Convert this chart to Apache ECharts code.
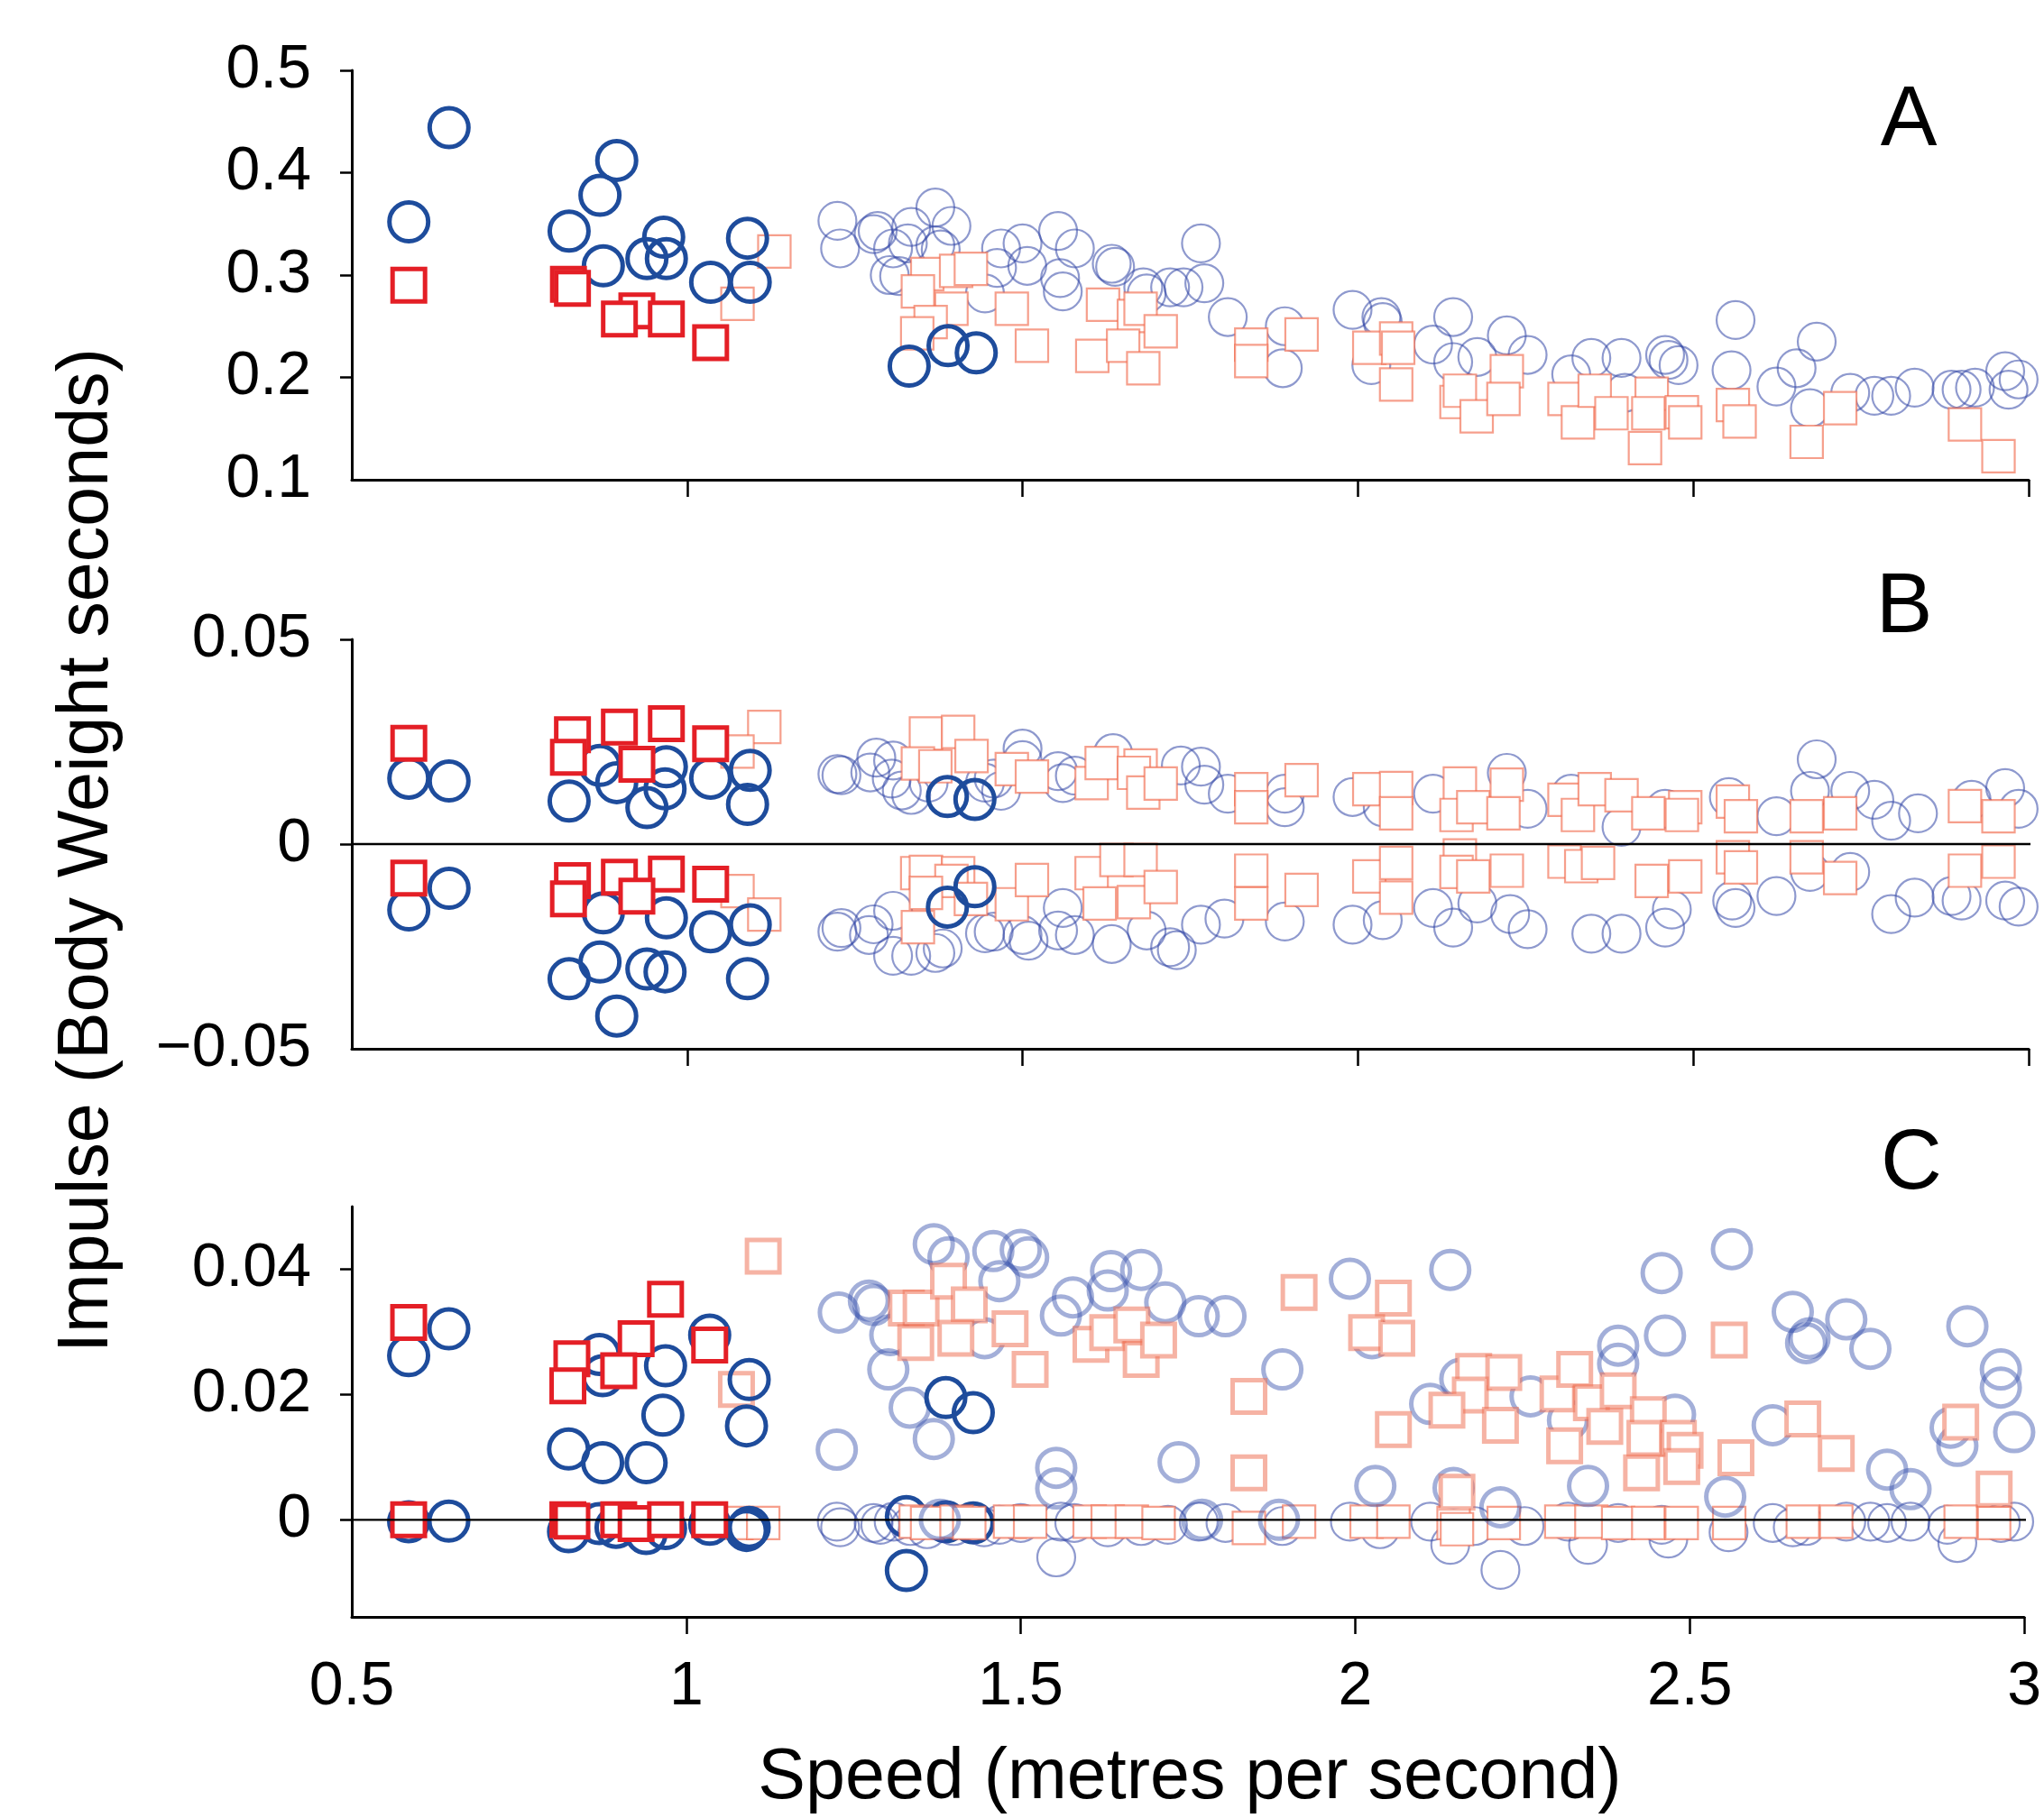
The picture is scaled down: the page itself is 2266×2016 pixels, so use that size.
<!DOCTYPE html>
<html>
<head>
<meta charset="utf-8">
<script src="https://cdn.jsdelivr.net/npm/echarts@6/dist/echarts.min.js"></script>
<style>html,body{margin:0;padding:0;background:#fff;}#chart{width:2266px;height:2016px;}</style>
</head>
<body>
<div id="chart"></div>
<script>
// ---------- tick values ----------
const xTickValues = [1, 1.5, 2, 2.5, 3];
const xLabelValues = [0.5, 1, 1.5, 2, 2.5, 3];
const aYTicks = [0.2, 0.3, 0.4, 0.5];
const aYLabels = [0.1, 0.2, 0.3, 0.4, 0.5];
const bYTicks = [0, 0.05];
const bYLabels = [-0.05, 0, 0.05];
const cYTicks = [0, 0.02, 0.04];
const cYLabels = [0, 0.02, 0.04];

// ---------- Panel A ----------
const aDarkCircles = [[0.585,0.352],[0.645,0.444],[0.824,0.343],[0.870,0.378],[0.895,0.412],[0.875,0.309],[0.940,0.316],[0.965,0.337],[0.969,0.316],[1.035,0.293],[1.090,0.336],[1.094,0.293],[1.331,0.211],[1.389,0.231],[1.431,0.224]];
const aDarkSquares = [[0.585,0.290],[0.823,0.291],[0.829,0.287],[0.925,0.265],[0.899,0.257],[0.969,0.257],[1.035,0.234]];
const aLightCircles = [[1.224,0.353],[1.228,0.326],[1.278,0.340],[1.284,0.343],[1.307,0.326],[1.334,0.347],[1.329,0.331],[1.302,0.300],[1.316,0.299],[1.370,0.366],[1.394,0.348],[1.370,0.329],[1.378,0.325],[1.444,0.282],[1.468,0.326],[1.500,0.331],[1.462,0.307],[1.507,0.309],[1.553,0.343],[1.578,0.326],[1.556,0.297],[1.560,0.284],
  [1.633,0.311],[1.638,0.308],[1.680,0.288],[1.685,0.282],[1.720,0.288],[1.740,0.288],[1.766,0.331],[1.771,0.292],[1.806,0.259],[1.891,0.250],[1.888,0.209],[1.992,0.266],[2.035,0.259],[2.037,0.254],[2.020,0.212],[2.112,0.232],[2.142,0.259],[2.142,0.215],[2.178,0.220],[2.222,0.241],[2.253,0.222],[2.318,0.203],[2.348,0.219],[2.393,0.219],[2.398,0.185],[2.458,0.222],[2.463,0.217],[2.478,0.212],[2.563,0.256],[2.557,0.207],[2.624,0.191],[2.654,0.209],[2.684,0.235],[2.674,0.170],[2.734,0.185],[2.770,0.182],[2.795,0.182],[2.830,0.190],[2.885,0.188],[2.900,0.188],[2.920,0.190],[2.965,0.206],[2.985,0.198],[2.970,0.188]];
const aLightSquares = [[1.130,0.323],[1.075,0.272],[1.358,0.301],[1.401,0.304],[1.423,0.306],[1.344,0.284],[1.394,0.267],[1.484,0.267],[1.363,0.254],[1.343,0.243],[1.514,0.231],
  [1.604,0.221],[1.620,0.271],[1.666,0.260],[1.676,0.267],[1.650,0.231],[1.706,0.245],[1.680,0.209],[1.841,0.232],[1.841,0.216],[1.916,0.242],[2.017,0.229],[2.057,0.238],[2.060,0.229],[2.057,0.193],[2.147,0.176],[2.152,0.187],[2.177,0.162],[2.222,0.206],[2.217,0.179],[2.308,0.179],[2.328,0.156],[2.353,0.187],[2.378,0.165],[2.438,0.184],[2.433,0.165],[2.428,0.131],[2.483,0.166],[2.488,0.156],[2.559,0.173],[2.569,0.157],[2.669,0.137],[2.719,0.170],[2.905,0.154],[2.955,0.123]];

// ---------- Panel B ----------
const bDarkCircles = [[0.585,0.0161],[0.645,0.0154],[0.824,0.0105],[0.870,0.0192],[0.895,0.0150],[0.940,0.0089],[0.969,0.0189],[0.967,0.0135],[1.035,0.0161],[1.094,0.0180],[1.090,0.0097],[1.388,0.0116],[1.429,0.0109],
  [0.585,-0.0161],[0.645,-0.0108],[0.875,-0.0168],[0.969,-0.0180],[1.035,-0.0214],[1.094,-0.0197],[0.870,-0.0288],[0.824,-0.0329],[0.940,-0.0305],[0.967,-0.0312],[1.090,-0.0329],[0.895,-0.0420],[1.388,-0.0154],[1.429,-0.0104]];
const bDarkSquares = [[0.585,0.0246],[0.829,0.0267],[0.823,0.0212],[0.899,0.0286],[0.969,0.0294],[0.925,0.0195],[1.035,0.0245],
  [0.585,-0.0083],[0.829,-0.0089],[0.823,-0.0134],[0.899,-0.0081],[0.969,-0.0073],[0.925,-0.0127],[1.035,-0.0098]];
const bLightCircles = [[1.224,0.0171],[1.230,0.0168],[1.282,0.0211],[1.273,0.0175],[1.307,0.0204],[1.305,0.0160],[1.320,0.0131],[1.334,0.0120],[1.360,0.0150],[1.444,0.0150],[1.457,0.0160],[1.500,0.0233],[1.500,0.0205],[1.468,0.0130],[1.553,0.0178],[1.560,0.0149],[1.578,0.0167],
  [1.635,0.0222],[1.736,0.0192],[1.766,0.0189],[1.771,0.0145],[1.806,0.0123],[1.891,0.0123],[1.891,0.0090],[1.992,0.0115],[2.037,0.0090],[2.112,0.0123],[2.222,0.0174],[2.253,0.0086],[2.318,0.0123],[2.393,0.0042],[2.458,0.0086],[2.553,0.0115],[2.624,0.0068],[2.684,0.0207],[2.674,0.0130],[2.734,0.0130],[2.770,0.0108],[2.795,0.0057],[2.835,0.0075],[2.915,0.0108],[2.965,0.0137],[2.985,0.0086],
  [1.224,-0.0214],[1.230,-0.0205],[1.278,-0.0196],[1.271,-0.0222],[1.307,-0.0163],[1.307,-0.0273],[1.334,-0.0273],[1.370,-0.0266],[1.381,-0.0255],[1.444,-0.0218],[1.457,-0.0214],[1.509,-0.0236],[1.500,-0.0222],[1.553,-0.0211],[1.560,-0.0156],[1.578,-0.0222],
  [1.633,-0.0244],[1.685,-0.0211],[1.720,-0.0252],[1.730,-0.0259],[1.766,-0.0197],[1.801,-0.0182],[1.891,-0.0189],[1.992,-0.0197],[2.037,-0.0186],[2.112,-0.0156],[2.142,-0.0204],[2.178,-0.0145],[2.227,-0.0171],[2.253,-0.0208],[2.348,-0.0219],[2.393,-0.0219],[2.458,-0.0204],[2.468,-0.0160],[2.563,-0.0156],[2.558,-0.0138],[2.624,-0.0127],[2.674,-0.0068],[2.734,-0.0068],[2.795,-0.0171],[2.830,-0.0131],[2.885,-0.0127],[2.900,-0.0138],[2.965,-0.0138],[2.985,-0.0153]];
const bLightSquares = [[1.115,0.0286],[1.075,0.0226],[1.356,0.0270],[1.404,0.0274],[1.344,0.0197],[1.370,0.0190],[1.424,0.0215],[1.484,0.0183],[1.514,0.0165],[1.603,0.0149],[1.618,0.0198],
  [1.676,0.0192],[1.666,0.0174],[1.680,0.0126],[1.706,0.0148],[1.841,0.0134],[1.841,0.0090],[1.916,0.0156],[2.017,0.0134],[2.057,0.0137],[2.057,0.0075],[2.152,0.0148],[2.147,0.0071],[2.172,0.0090],[2.222,0.0145],[2.217,0.0075],[2.308,0.0108],[2.328,0.0071],[2.353,0.0134],[2.393,0.0119],[2.433,0.0075],[2.488,0.0090],[2.483,0.0071],[2.559,0.0104],[2.571,0.0068],[2.669,0.0068],[2.719,0.0075],[2.905,0.0093],[2.955,0.0068],
  [1.075,-0.0115],[1.115,-0.0172],[1.343,-0.0071],[1.356,-0.0068],[1.404,-0.0071],[1.394,-0.0090],[1.356,-0.0119],[1.344,-0.0203],[1.423,-0.0134],[1.484,-0.0147],[1.514,-0.0088],[1.603,-0.0071],[1.615,-0.0145],
  [1.640,-0.0039],[1.676,-0.0039],[1.666,-0.0142],[1.706,-0.0105],[1.841,-0.0065],[1.841,-0.0145],[1.916,-0.0112],[2.017,-0.0079],[2.057,-0.0046],[2.057,-0.0131],[2.152,-0.0028],[2.147,-0.0068],[2.172,-0.0079],[2.222,-0.0065],[2.308,-0.0043],[2.333,-0.0054],[2.358,-0.0046],[2.438,-0.0090],[2.488,-0.0079],[2.559,-0.0032],[2.571,-0.0057],[2.669,-0.0032],[2.719,-0.0083],[2.905,-0.0065],[2.955,-0.0043]];

// ---------- Panel C ----------
const cDarkCircles = [[0.645,0.0305],[0.585,0.0262],[1.035,0.0295],[0.870,0.0264],[0.875,0.0230],[0.969,0.0246],[1.094,0.0224],[0.965,0.0167],[1.090,0.0150],[0.824,0.0113],[0.875,0.0091],[0.940,0.0091],[1.388,0.0195],[1.429,0.0171],[1.329,-0.0081],
  [0.585,-0.0003],[0.645,-0.0002],[0.824,-0.0019],[0.870,-0.0006],[0.895,-0.0012],[0.940,-0.0022],[0.969,-0.0014],[1.035,-0.0007],[1.090,-0.0017],[1.094,-0.0012]];
const cDarkZeroBehind = [[1.329,0.0005],[1.388,-0.0003],[1.429,-0.0005]];
const cDarkSquares = [[0.585,0.0315],[0.969,0.0352],[0.925,0.0289],[1.035,0.0279],[0.829,0.0257],[0.899,0.0238],[0.823,0.0214],
  [0.585,0.0000],[0.823,0.0000],[0.829,-0.0002],[0.899,0.0000],[0.925,-0.0006],[0.969,0.0000],[1.035,0.0000]];
const cZeroCircles = [[1.225,-0.0003],[1.230,-0.0012],[1.280,-0.0005],[1.290,-0.0008],[1.310,-0.0003],[1.335,-0.0010],[1.360,-0.0015],[1.400,-0.0010],[1.445,-0.0012],[1.468,-0.0008],[1.500,-0.0005],[1.553,-0.0060],[1.560,-0.0003],[1.580,-0.0005],[1.630,-0.0012],[1.680,-0.0010],[1.720,-0.0008],[1.766,-0.0003],[1.806,-0.0005],[1.891,-0.0010],[1.992,-0.0003],[2.037,-0.0015],[2.112,-0.0003],[2.142,-0.0040],[2.178,-0.0010],[2.217,-0.0080],[2.253,-0.0010],[2.318,-0.0003],[2.348,-0.0040],[2.393,-0.0005],[2.458,-0.0008],[2.468,-0.0030],[2.558,-0.0020],[2.624,-0.0005],[2.654,-0.0012],[2.674,-0.0010],[2.734,-0.0003],[2.770,-0.0003],[2.795,-0.0005],[2.830,-0.0003],[2.885,-0.0008],[2.900,-0.0037],[2.965,-0.0005],[2.985,-0.0003]];
const cZeroSquares = [[1.075,-0.0005],[1.115,-0.0005],[1.343,-0.0003],[1.360,-0.0005],[1.404,-0.0003],[1.423,-0.0005],[1.484,-0.0003],[1.514,-0.0003],[1.603,-0.0003],[1.630,-0.0003],[1.666,-0.0003],[1.706,-0.0005],[1.841,-0.0013],[1.916,-0.0003],[2.017,-0.0003],[2.057,-0.0003],[2.147,-0.0005],[2.152,-0.0015],[2.222,-0.0005],[2.308,-0.0003],[2.353,-0.0003],[2.393,-0.0005],[2.438,-0.0005],[2.488,-0.0005],[2.559,-0.0005],[2.669,-0.0003],[2.719,-0.0003],[2.905,-0.0003],[2.955,-0.0005]];
const cPaleCircles = [[1.225,0.0112],[1.228,0.0331],[1.273,0.0350],[1.280,0.0343],[1.305,0.0295],[1.302,0.0240],[1.334,0.0179],[1.370,0.0129],[1.370,0.0440],[1.392,0.0419],[1.459,0.0429],[1.500,0.0431],[1.511,0.0419],[1.468,0.0381],[1.446,0.0290],[1.560,0.0326],[1.578,0.0355],[1.553,0.0083],[1.553,0.0050],[1.379,0.0000],
  [1.635,0.0397],[1.630,0.0366],[1.680,0.0399],[1.716,0.0347],[1.766,0.0325],[1.806,0.0325],[1.891,0.0240],[1.992,0.0385],[2.025,0.0290],[2.142,0.0399],[2.112,0.0185],[2.157,0.0225],[2.262,0.0197],[2.318,0.0159],[2.393,0.0278],[2.393,0.0249],[2.458,0.0394],[2.463,0.0294],[2.478,0.0168],[2.563,0.0432],[2.624,0.0151],[2.654,0.0332],[2.679,0.0290],[2.674,0.0282],[2.734,0.0320],[2.770,0.0273],[2.795,0.0080],[2.830,0.0049],[2.915,0.0309],[2.890,0.0147],[2.900,0.0118],[2.965,0.0240],[2.965,0.0211],[2.985,0.0140],[1.736,0.0092],[2.030,0.0054],[2.147,0.0051],[2.217,0.0020],[2.348,0.0054],[2.553,0.0037],[1.771,0.0000],[1.886,0.0000]];
const cPaleSquares = [[1.115,0.0421],[1.075,0.0208],[1.329,0.0338],[1.351,0.0338],[1.392,0.0381],[1.423,0.0343],[1.343,0.0283],[1.403,0.0290],[1.484,0.0305],[1.514,0.0240],
  [1.605,0.0280],[1.630,0.0299],[1.666,0.0311],[1.680,0.0256],[1.706,0.0287],[1.916,0.0363],[1.841,0.0197],[1.841,0.0075],[2.057,0.0354],[2.017,0.0299],[2.062,0.0290],[2.057,0.0144],[2.177,0.0237],[2.222,0.0235],[2.172,0.0199],[2.137,0.0175],[2.217,0.0151],[2.303,0.0201],[2.328,0.0240],[2.353,0.0187],[2.393,0.0206],[2.313,0.0118],[2.373,0.0149],[2.438,0.0168],[2.433,0.0130],[2.483,0.0130],[2.493,0.0111],[2.488,0.0085],[2.428,0.0075],[2.559,0.0287],[2.569,0.0099],[2.669,0.0161],[2.719,0.0106],[2.905,0.0156],[2.955,0.0049],[2.152,0.0044]];
const zeroLine = [[0.5,0],[3.025,0]];

// ---------- styles ----------
const FONT = '"Liberation Sans", Arial, Helvetica, sans-serif';
const DARK_BLUE = '#1e4c9c';
const DARK_RED = '#e41f26';
const LIGHT_BLUE = 'rgba(50,70,165,0.55)';
const LIGHT_RED = 'rgba(240,100,70,0.62)';
const PALE_BLUE = 'rgba(60,85,175,0.47)';
const PALE_RED = 'rgba(238,110,80,0.52)';
const NOFILL = 'rgba(0,0,0,0)';

function fmt(v){ return String(+(+v).toFixed(3)).replace('-', '\u2212'); }

function sc(idx, data, symbol, size, fill, stroke, bw){
  return { type:'scatter', xAxisIndex:idx, yAxisIndex:idx, data:data, symbol:symbol, symbolSize:size,
    itemStyle:{ color:fill, borderColor:stroke, borderWidth:bw, opacity:1 }, silent:true,
    emphasis:{ disabled:true }, animation:false };
}
function zl(idx){
  return { type:'line', xAxisIndex:idx, yAxisIndex:idx, data:zeroLine, symbol:'none', clip:false,
    lineStyle:{ color:'#000', width:2.3 }, silent:true, z:5, animation:false };
}
function xAx(idx, showLabels){
  return { type:'value', gridIndex:idx, min:0.5, max:3, interval:0.5,
    axisLine:{ show:true, onZero:false, lineStyle:{ color:'#000', width:3 } },
    axisTick:{ show:true, inside:false, length:19, customValues:xTickValues, lineStyle:{ color:'#000', width:2.5 } },
    axisLabel:{ show:showLabels, customValues:xLabelValues, fontSize:68, color:'#000', fontFamily:FONT, margin:44, formatter:fmt },
    splitLine:{ show:false } };
}
function yAx(idx, min, max, interval, ticks, labels){
  const o = { type:'value', gridIndex:idx, min:min, max:max,
    axisLine:{ show:true, onZero:false, lineStyle:{ color:'#000', width:3 } },
    axisTick:{ show:true, inside:false, length:13, customValues:ticks, lineStyle:{ color:'#000', width:2.5 } },
    axisLabel:{ show:true, customValues:labels, fontSize:68, color:'#000', fontFamily:FONT, margin:45, formatter:fmt },
    splitLine:{ show:false } };
  if (interval) o.interval = interval;
  return o;
}

const chart = echarts.init(document.getElementById('chart'), null, { renderer:'canvas', width:2266, height:2016 });
chart.setOption({
  backgroundColor:'#ffffff',
  animation:false,
  grid:[
    { left:390, top:78, width:1859, height:454 },
    { left:390, top:709, width:1859, height:454 },
    { left:390, top:1338, width:1859, height:455 }
  ],
  xAxis:[ xAx(0,false), xAx(1,false), xAx(2,true) ],
  yAxis:[ yAx(0,0.1,0.5,0.1,aYTicks,aYLabels), yAx(1,-0.05,0.05,0.05,bYTicks,bYLabels), yAx(2,-0.0155,0.05,null,cYTicks,cYLabels) ],
  series:[
    sc(0, aLightCircles, 'circle', 42, NOFILL, LIGHT_BLUE, 2.2),
    sc(0, aLightSquares, 'rect', 36, '#fff', LIGHT_RED, 2.2),
    sc(0, aDarkCircles, 'circle', 43, NOFILL, DARK_BLUE, 5),
    sc(0, aDarkSquares, 'rect', 36, '#fff', DARK_RED, 5),

    sc(1, bLightCircles, 'circle', 42, NOFILL, LIGHT_BLUE, 2.2),
    sc(1, bLightSquares, 'rect', 36, '#fff', LIGHT_RED, 2.2),
    sc(1, bDarkCircles, 'circle', 43, NOFILL, DARK_BLUE, 5),
    sc(1, bDarkSquares, 'rect', 36, '#fff', DARK_RED, 5),
    zl(1),

    sc(2, cDarkZeroBehind, 'circle', 43, NOFILL, DARK_BLUE, 5),
    sc(2, cZeroCircles, 'circle', 42, NOFILL, LIGHT_BLUE, 2.2),
    sc(2, cZeroSquares, 'rect', 36, '#fff', LIGHT_RED, 2.2),
    sc(2, cPaleCircles, 'circle', 42, NOFILL, PALE_BLUE, 5),
    sc(2, cPaleSquares, 'rect', 36, '#fff', PALE_RED, 5),
    sc(2, cDarkCircles, 'circle', 43, NOFILL, DARK_BLUE, 5),
    sc(2, cDarkSquares, 'rect', 36, '#fff', DARK_RED, 5),
    zl(2)
  ],
  graphic:[
    { type:'text', x:97, y:943, rotation:Math.PI/2, silent:true,
      style:{ text:'Impulse (Body Weight seconds)', font:'79px ' + FONT, fill:'#000', textAlign:'center', textVerticalAlign:'middle' } },
    { type:'text', x:1319, y:1972, silent:true,
      style:{ text:'Speed (metres per second)', font:'79px ' + FONT, fill:'#000', textAlign:'center', textVerticalAlign:'middle' } },
    { type:'text', x:2116, y:135, silent:true,
      style:{ text:'A', font:'94px ' + FONT, fill:'#000', textAlign:'center', textVerticalAlign:'middle' } },
    { type:'text', x:2111, y:675, silent:true,
      style:{ text:'B', font:'94px ' + FONT, fill:'#000', textAlign:'center', textVerticalAlign:'middle' } },
    { type:'text', x:2119, y:1292, silent:true,
      style:{ text:'C', font:'94px ' + FONT, fill:'#000', textAlign:'center', textVerticalAlign:'middle' } }
  ]
});
</script>
</body>
</html>
